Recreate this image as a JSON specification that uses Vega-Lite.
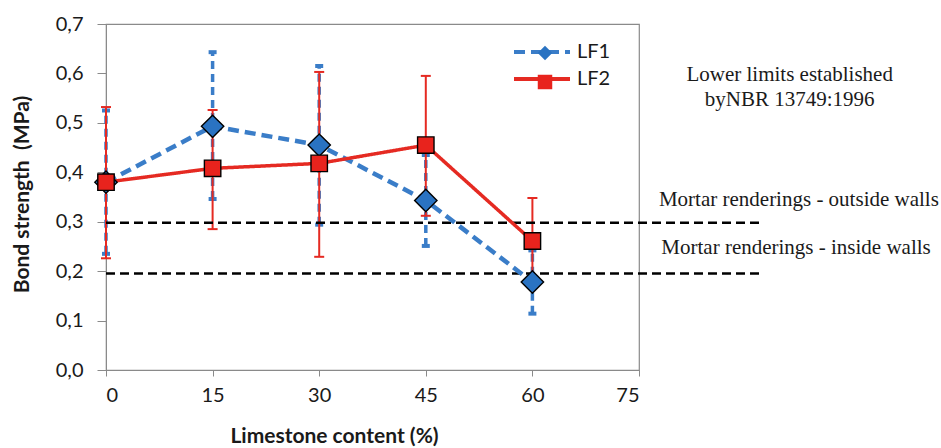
{
  "$schema": "https://vega.github.io/schema/vega-lite/v6.json",
  "width": 533,
  "height": 346,
  "autosize": "none",
  "padding": {"left": 106, "top": 24, "right": 302, "bottom": 78},
  "background": "white",
  "config": {
    "font": "Lato",
    "view": {"stroke": "#8a8a8a", "strokeWidth": 1.2}
  },
  "datasets": {
    "bond": [
      {"series": "LF1", "limestone": 0, "strength": 0.38, "low": 0.235, "high": 0.525},
      {"series": "LF1", "limestone": 15, "strength": 0.493, "low": 0.346, "high": 0.643},
      {"series": "LF1", "limestone": 30, "strength": 0.455, "low": 0.294, "high": 0.615},
      {"series": "LF1", "limestone": 45, "strength": 0.343, "low": 0.251, "high": 0.435},
      {"series": "LF1", "limestone": 60, "strength": 0.178, "low": 0.114, "high": 0.242},
      {"series": "LF2", "limestone": 0, "strength": 0.38, "low": 0.226, "high": 0.532},
      {"series": "LF2", "limestone": 15, "strength": 0.408, "low": 0.285, "high": 0.526},
      {"series": "LF2", "limestone": 30, "strength": 0.418, "low": 0.229, "high": 0.603},
      {"series": "LF2", "limestone": 45, "strength": 0.455, "low": 0.312, "high": 0.595},
      {"series": "LF2", "limestone": 60, "strength": 0.261, "low": 0.172, "high": 0.348}
    ],
    "limits": [
      {"limit": "Mortar renderings - outside walls", "value": 0.298},
      {"limit": "Mortar renderings - inside walls", "value": 0.195}
    ]
  },
  "layer": [
    {
      "data": {"values": [{}]},
      "mark": {"type": "rule", "stroke": "white", "strokeWidth": 2},
      "encoding": {
        "x": {"datum": 52.6, "type": "quantitative", "scale": {"domain": [0, 75], "nice": false},
          "axis": {"values": [0, 15, 30, 45, 60, 75], "grid": false, "domainColor": "#8a8a8a", "tickColor": "#8a8a8a", "tickSize": 6, "labelFont": "Lato", "labelFontSize": 20, "labelColor": "#1a1a1a", "labelPadding": 9, "title": "Limestone content (%)", "titleFont": "Lato", "titleFontSize": 21, "titleFontWeight": "bold", "titleColor": "#1a1a1a", "titleX": 228, "titleY": 66, "titleBaseline": "middle", "titleAlign": "center"}},
        "x2": {"datum": 74.8},
        "y": {"datum": 0.6, "type": "quantitative", "scale": {"domain": [0, 0.7], "nice": false},
          "axis": {"values": [0, 0.1, 0.2, 0.3, 0.4, 0.5, 0.6, 0.7], "labelExpr": "replace(format(datum.value, '.1f'), '.', ',')", "gridColor": "#9a9a9a", "gridWidth": 1, "domainColor": "#8a8a8a", "tickColor": "#8a8a8a", "tickSize": 9, "labelFont": "Lato", "labelFontSize": 20, "labelColor": "#1a1a1a", "labelPadding": 14, "title": "Bond strength\u00a0 (MPa)", "titleFont": "Lato", "titleFontSize": 21, "titleFontWeight": "bold", "titleColor": "#1a1a1a", "titleX": -84, "titleY": 170, "titleBaseline": "middle", "titleAlign": "center"}}
      }
    },
    {
      "data": {"name": "bond"},
      "transform": [{"filter": "datum.series === 'LF1'"}],
      "mark": {"type": "rule", "stroke": "#3a7dc8", "strokeWidth": 3.5, "strokeDash": [8, 5]},
      "encoding": {
        "x": {"field": "limestone", "type": "quantitative", "scale": {"domain": [0, 75], "nice": false}},
        "y": {"field": "low", "type": "quantitative", "scale": {"domain": [0, 0.7], "nice": false}},
        "y2": {"field": "high"}
      }
    },
    {
      "data": {"name": "bond"},
      "transform": [{"filter": "datum.series === 'LF1'"}, {"fold": ["low", "high"], "as": ["bound", "value"]}],
      "mark": {"type": "tick", "orient": "horizontal", "color": "#3a7dc8", "size": 8, "thickness": 4, "opacity": 1},
      "encoding": {
        "x": {"field": "limestone", "type": "quantitative", "scale": {"domain": [0, 75], "nice": false}},
        "y": {"field": "value", "type": "quantitative", "scale": {"domain": [0, 0.7], "nice": false}}
      }
    },
    {
      "data": {"name": "bond"},
      "transform": [{"filter": "datum.series === 'LF2'"}],
      "mark": {"type": "rule", "stroke": "#e52a22", "strokeWidth": 2},
      "encoding": {
        "x": {"field": "limestone", "type": "quantitative", "scale": {"domain": [0, 75], "nice": false}},
        "y": {"field": "low", "type": "quantitative", "scale": {"domain": [0, 0.7], "nice": false}},
        "y2": {"field": "high"}
      }
    },
    {
      "data": {"name": "bond"},
      "transform": [{"filter": "datum.series === 'LF2'"}, {"fold": ["low", "high"], "as": ["bound", "value"]}],
      "mark": {"type": "tick", "orient": "horizontal", "color": "#e52a22", "size": 10, "thickness": 2, "opacity": 1},
      "encoding": {
        "x": {"field": "limestone", "type": "quantitative", "scale": {"domain": [0, 75], "nice": false}},
        "y": {"field": "value", "type": "quantitative", "scale": {"domain": [0, 0.7], "nice": false}}
      }
    },
    {
      "data": {"name": "limits"},
      "mark": {"type": "rule", "stroke": "black", "strokeWidth": 2.5, "strokeDash": [9, 5]},
      "encoding": {
        "x": {"datum": 0, "type": "quantitative", "scale": {"domain": [0, 75], "nice": false}},
        "x2": {"datum": 92.4},
        "y": {"field": "value", "type": "quantitative", "scale": {"domain": [0, 0.7], "nice": false}}
      }
    },
    {
      "data": {"name": "bond"},
      "mark": {"type": "line"},
      "encoding": {
        "x": {"field": "limestone", "type": "quantitative", "scale": {"domain": [0, 75], "nice": false}},
        "y": {"field": "strength", "type": "quantitative", "scale": {"domain": [0, 0.7], "nice": false}},
        "stroke": {"field": "series", "type": "nominal", "scale": {"domain": ["LF1", "LF2"], "range": ["#3a7dc8", "#e52a22"]}},
        "strokeWidth": {"condition": {"test": "datum.series === 'LF1'", "value": 4.5}, "value": 3.5},
        "strokeDash": {"field": "series", "type": "nominal", "scale": {"domain": ["LF1", "LF2"], "range": [[11, 6], [1, 0]]},
          "legend": {"orient": "none", "legendX": 446, "legendY": 18, "title": null, "symbolType": "M-6,0L1,0", "symbolSize": 256, "symbolStrokeWidth": 4, "symbolFillColor": "transparent", "symbolOpacity": 1, "labelFont": "Lato", "labelFontSize": 20, "labelColor": "#1a1a1a", "labelOffset": 5, "rowPadding": 7, "padding": 0}}
      }
    },
    {
      "data": {"name": "bond"},
      "mark": {"type": "point", "filled": true, "stroke": "black", "strokeWidth": 1.4, "opacity": 1},
      "encoding": {
        "x": {"field": "limestone", "type": "quantitative", "scale": {"domain": [0, 75], "nice": false}},
        "y": {"field": "strength", "type": "quantitative", "scale": {"domain": [0, 0.7], "nice": false}},
        "fill": {"field": "series", "type": "nominal", "scale": {"range": ["#2a73c2", "#e8231d"]}},
        "size": {"condition": {"test": "datum.series === 'LF1'", "value": 500}, "value": 270},
        "shape": {"field": "series", "type": "nominal", "scale": {"range": ["diamond", "square"]},
          "legend": {"orient": "top-right", "offset": 21, "title": null, "symbolSize": 210, "symbolStrokeColor": "black", "symbolStrokeWidth": 1.3, "symbolOpacity": 1, "labelExpr": "''", "labelFontSize": 1, "labelOffset": 65, "rowPadding": 9, "padding": 0}}
      }
    },
    {
      "data": {"values": [{}]},
      "mark": {"type": "text", "font": "Liberation Serif", "fontSize": 21, "color": "#1a1a1a", "align": "center", "baseline": "middle", "lineHeight": 25},
      "encoding": {
        "x": {"datum": 96.2, "type": "quantitative", "scale": {"domain": [0, 75], "nice": false}},
        "y": {"datum": 0.597, "type": "quantitative", "scale": {"domain": [0, 0.7], "nice": false}},
        "text": {"value": ["Lower limits established", "byNBR 13749:1996"]}
      }
    },
    {
      "data": {"values": [{}]},
      "mark": {"type": "text", "font": "Liberation Serif", "fontSize": 21, "color": "#1a1a1a", "align": "center", "baseline": "middle"},
      "encoding": {
        "x": {"datum": 97.5, "type": "quantitative", "scale": {"domain": [0, 75], "nice": false}},
        "y": {"datum": 0.344, "type": "quantitative", "scale": {"domain": [0, 0.7], "nice": false}},
        "text": {"value": "Mortar renderings - outside walls"}
      }
    },
    {
      "data": {"values": [{}]},
      "mark": {"type": "text", "font": "Liberation Serif", "fontSize": 21, "color": "#1a1a1a", "align": "center", "baseline": "middle"},
      "encoding": {
        "x": {"datum": 97.1, "type": "quantitative", "scale": {"domain": [0, 75], "nice": false}},
        "y": {"datum": 0.247, "type": "quantitative", "scale": {"domain": [0, 0.7], "nice": false}},
        "text": {"value": "Mortar renderings - inside walls"}
      }
    }
  ]
}
